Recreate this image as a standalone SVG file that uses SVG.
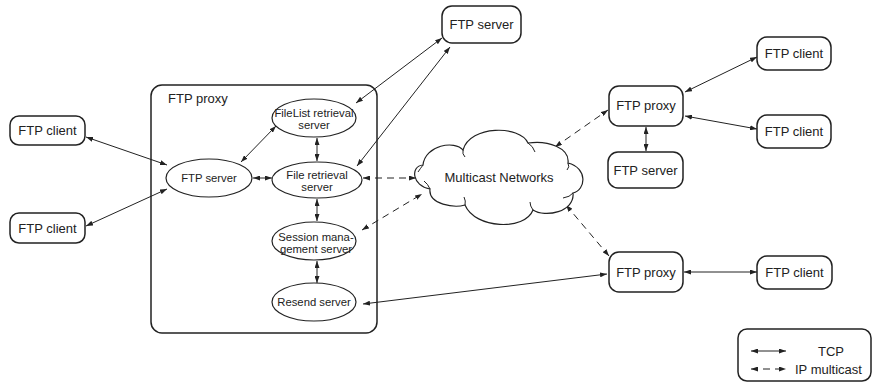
<svg xmlns="http://www.w3.org/2000/svg" width="873" height="383" viewBox="0 0 873 383">
  <defs>
    <style>
      .box { fill: #fff; stroke: #222; stroke-width: 1.5; }
      .ell { fill: #fff; stroke: #222; stroke-width: 1.2; }
      .t13 { font-family: "Liberation Sans", Arial, sans-serif; font-size: 13px; fill: #222; }
      .t11 { font-family: "Liberation Sans", Arial, sans-serif; font-size: 11.3px; fill: #222; text-anchor: middle; }
      .mid { text-anchor: middle; }
      .tcp { fill: none; stroke: #222; stroke-width: 1; marker-start: url(#ah); marker-end: url(#ah); }
      .mc { fill: none; stroke: #222; stroke-width: 1; stroke-dasharray: 7 5; marker-start: url(#ah); marker-end: url(#ah); }
      .cloud { fill: #fff; stroke: #222; stroke-width: 1.2; }
      .curl { fill: none; stroke: #222; stroke-width: 1; }
    </style>
    <marker id="ah" viewBox="0 0 7 5" refX="7" refY="2.5" markerWidth="7" markerHeight="5" markerUnits="userSpaceOnUse" orient="auto-start-reverse">
      <path d="M0,0 L7,2.5 L0,5 z" fill="#222"/>
    </marker>
  </defs>

  <!-- proxy container -->
  <g id="proxy-main">
    <rect class="box" x="151" y="85" width="226" height="248" rx="11"/>
    <text class="t13" x="168" y="103">FTP proxy</text>
  </g>

  <!-- connectors -->
  <g id="connectors">
    <line class="tcp" x1="86" y1="137" x2="167" y2="165"/>
    <line class="tcp" x1="86" y1="226" x2="167" y2="189"/>
    <line class="tcp" x1="241" y1="162" x2="276" y2="126"/>
    <line class="tcp" x1="253" y1="178" x2="272" y2="178"/>
    <line class="tcp" x1="317" y1="138" x2="317" y2="161"/>
    <line class="tcp" x1="317" y1="199" x2="317" y2="221"/>
    <line class="tcp" x1="317" y1="261" x2="317" y2="283"/>
    <line class="tcp" x1="442" y1="38" x2="356" y2="103"/>
    <line class="tcp" x1="450" y1="47" x2="357" y2="166"/>
    <line class="tcp" x1="363" y1="304" x2="607" y2="274"/>
    <line class="tcp" x1="685" y1="92" x2="757" y2="57"/>
    <line class="tcp" x1="685" y1="116" x2="757" y2="129"/>
    <line class="tcp" x1="646" y1="127" x2="646" y2="151"/>
    <line class="tcp" x1="684" y1="272" x2="757" y2="272"/>
    <line class="mc" x1="363" y1="178" x2="416" y2="178"/>
    <line class="mc" x1="362" y1="230" x2="422" y2="194"/>
    <line class="mc" x1="555" y1="147" x2="608" y2="110"/>
    <line class="mc" x1="566" y1="205" x2="609" y2="256"/>
  </g>

  <!-- nodes inside the proxy -->
  <g id="ftp-server-inner">
    <ellipse class="ell" cx="209" cy="178" rx="43" ry="19"/>
    <text class="t11" x="209" y="182">FTP server</text>
  </g>
  <g id="filelist-retrieval">
    <ellipse class="ell" cx="314" cy="118" rx="42" ry="19"/>
    <text class="t11" x="314" y="117">FileList retrieval</text>
    <text class="t11" x="314" y="129">server</text>
  </g>
  <g id="file-retrieval">
    <ellipse class="ell" cx="317" cy="180" rx="45" ry="18"/>
    <text class="t11" x="317" y="179">File retrieval</text>
    <text class="t11" x="317" y="191">server</text>
  </g>
  <g id="session-management">
    <ellipse class="ell" cx="314" cy="241" rx="42" ry="19"/>
    <text class="t11" x="316" y="241">Session mana-</text>
    <text class="t11" x="316" y="253">gement server</text>
  </g>
  <g id="resend-server">
    <ellipse class="ell" cx="314" cy="302" rx="42" ry="19"/>
    <text class="t11" x="314" y="306">Resend server</text>
  </g>

  <!-- outer nodes -->
  <g id="client-left-1">
    <rect class="box" x="10" y="116" width="75" height="29" rx="9"/>
    <text class="t13 mid" x="47.5" y="135">FTP client</text>
  </g>
  <g id="client-left-2">
    <rect class="box" x="10" y="213" width="75" height="30" rx="9"/>
    <text class="t13 mid" x="47.5" y="233">FTP client</text>
  </g>
  <g id="server-top">
    <rect class="box" x="442" y="6" width="79" height="37" rx="10"/>
    <text class="t13 mid" x="481.5" y="29">FTP server</text>
  </g>
  <g id="proxy-right-top">
    <rect class="box" x="609" y="86" width="74" height="40" rx="10"/>
    <text class="t13 mid" x="646" y="110">FTP proxy</text>
  </g>
  <g id="client-right-1">
    <rect class="box" x="757" y="37" width="74" height="33" rx="10"/>
    <text class="t13 mid" x="794" y="58">FTP client</text>
  </g>
  <g id="client-right-2">
    <rect class="box" x="757" y="115" width="74" height="33" rx="10"/>
    <text class="t13 mid" x="794" y="136">FTP client</text>
  </g>
  <g id="server-right">
    <rect class="box" x="608" y="152" width="75" height="36" rx="10"/>
    <text class="t13 mid" x="645.5" y="175">FTP server</text>
  </g>
  <g id="proxy-right-bottom">
    <rect class="box" x="609" y="252" width="74" height="40" rx="10"/>
    <text class="t13 mid" x="646" y="277">FTP proxy</text>
  </g>
  <g id="client-right-3">
    <rect class="box" x="757" y="256" width="75" height="33" rx="10"/>
    <text class="t13 mid" x="794.5" y="277">FTP client</text>
  </g>

  <!-- multicast cloud -->
  <g id="multicast-cloud">
    <path class="cloud" d="M463,150 C470,125 520,125 528,143 C548,140 570,148 568,163 C588,168 586,190 573,193 C575,212 545,218 533,210 C525,231 475,229 465,205 C455,208 428,205 430,189 C412,186 410,166 423,165 C425,145 455,140 463,150 Z"/>
    <path class="curl" d="M463,150 Q462,154 465,157 M528,143 Q533,146 535,152 M568,163 Q570,167 567,170 M573,193 Q570,197 563,198 M533,210 Q530,206 530,202 M465,205 Q466,201 464,197 M430,189 Q428,184 424,181 M423,165 Q420,169 418,172"/>
    <text class="t13 mid" x="499" y="182">Multicast Networks</text>
  </g>

  <!-- legend -->
  <g id="legend">
    <rect class="box" x="738" y="329" width="133" height="52" rx="9" stroke-width="1.2"/>
    <line class="tcp" x1="751" y1="351" x2="786" y2="351"/>
    <line class="mc" x1="751" y1="369" x2="786" y2="369" stroke-dasharray="6 5"/>
    <text class="t13" x="818" y="356">TCP</text>
    <text class="t13" x="795" y="374">IP multicast</text>
  </g>
</svg>
